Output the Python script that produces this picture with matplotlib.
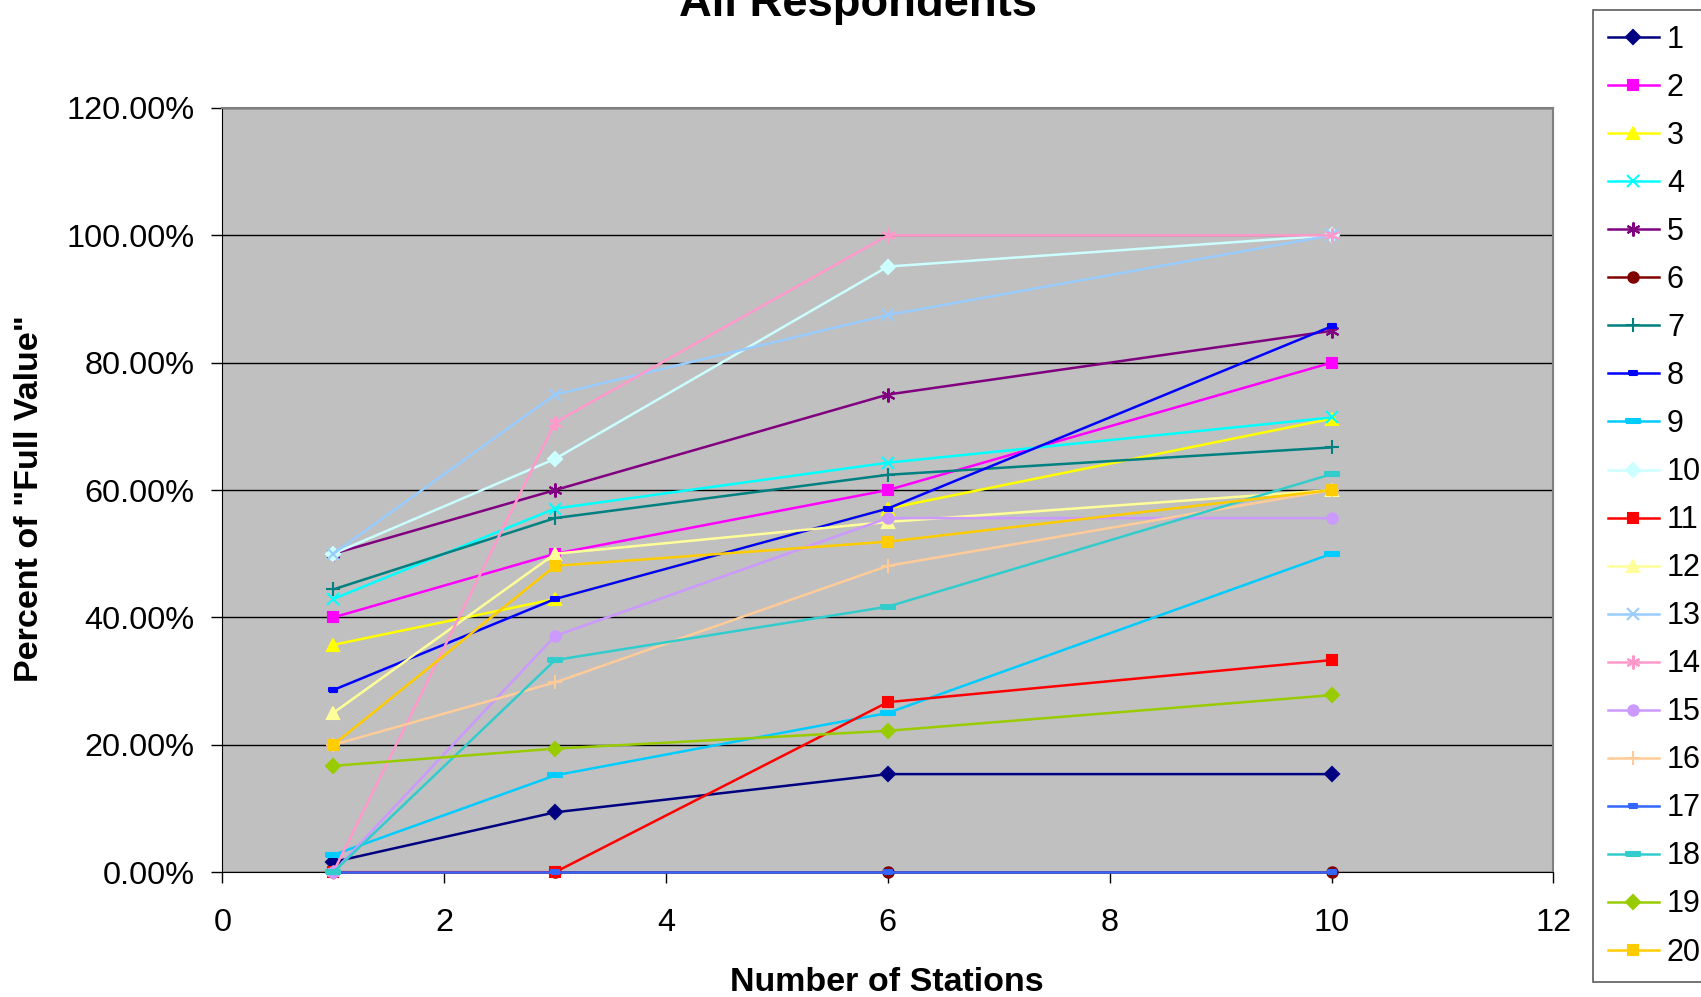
import matplotlib
matplotlib.use("Agg")
import matplotlib.pyplot as plt
from matplotlib.ticker import MultipleLocator, StrMethodFormatter

plt.rcParams['font.family'] = ['Liberation Sans', 'DejaVu Sans']

# number of stations
stations = [1, 3, 6, 10]

# percent of "full value" per respondent
r1 = [1.6, 9.4, 15.4, 15.4]
r2 = [40.0, 50.0, 60.0, 80.0]
r3 = [35.7, 42.9, 57.1, 71.2]
r4 = [42.9, 57.1, 64.3, 71.4]
r5 = [50.0, 60.0, 75.0, 85.0]
r6 = [0.0, 0.0, 0.0, 0.0]
r7 = [44.4, 55.6, 62.4, 66.7]
r8 = [28.6, 42.9, 57.1, 85.7]
r9 = [2.7, 15.2, 25.0, 50.0]
r10 = [50.0, 64.9, 95.1, 100.0]
r11 = [0.0, 0.0, 26.7, 33.3]
r12 = [25.0, 50.0, 55.0, 60.0]
r13 = [50.0, 75.0, 87.5, 100.0]
r14 = [0.0, 70.6, 100.0, 100.0]
r15 = [0.0, 37.1, 55.6, 55.6]
r16 = [20.0, 29.8, 48.1, 60.0]
r17 = [0.0, 0.0, 0.0, 0.0]
r18 = [0.0, 33.3, 41.7, 62.5]
r19 = [16.7, 19.4, 22.2, 27.8]
r20 = [20.0, 48.1, 51.9, 60.0]

respondents = [r1, r2, r3, r4, r5, r6, r7, r8, r9, r10,
               r11, r12, r13, r14, r15, r16, r17, r18, r19, r20]
labels = [str(i) for i in range(1, 21)]

# excel 2003 style palette
colors = ['#000080', '#FF00FF', '#FFFF00', '#00FFFF', '#800080', '#800000',
          '#008080', '#0000FF', '#00CCFF', '#CCFFFF', '#FF0000', '#FFFF99',
          '#99CCFF', '#FF99CC', '#CC99FF', '#FFCC99', '#3366FF', '#33CCCC',
          '#99CC00', '#FFCC00']

short_bar = [(-1, -0.5), (1, -0.5), (1, 0.5), (-1, 0.5), (-1, -0.5)]
long_bar = [(-1, -0.3), (1, -0.3), (1, 0.3), (-1, 0.3), (-1, -0.3)]
star = (6, 2, 0)

markers = ['D', 's', '^', 'x', star, 'o', '+', short_bar, long_bar, 'D',
           's', '^', 'x', star, 'o', '+', short_bar, long_bar, 'D', 's']
sizes = [7, 7.5, 8.5, 9, 10, 7.5, 10, 5.5, 10, 7,
         7.5, 8.5, 9, 10, 7.5, 10, 5.5, 10, 7, 7.5]

fig = plt.figure(figsize=(17.01, 9.97), dpi=100)
ax = fig.add_axes([0.1307, 0.1252, 0.7825, 0.7665])
ax.set_facecolor('#C0C0C0')

for vals, lab, col, mk, ms in zip(respondents, labels, colors, markers, sizes):
    ax.plot(stations, vals, color=col, marker=mk, markersize=ms,
            markerfacecolor=col, markeredgecolor=col, markeredgewidth=1.5,
            linewidth=1.8, label=lab, clip_on=False, zorder=3)

ax.set_xlim(0, 12)
ax.set_ylim(0, 120)
ax.xaxis.set_major_locator(MultipleLocator(2))
ax.yaxis.set_major_locator(MultipleLocator(20))
ax.yaxis.set_major_formatter(StrMethodFormatter('{x:.2f}%'))
ax.tick_params(axis='both', direction='out', length=8, width=1, labelsize=23.4)
ax.tick_params(axis='x', pad=18)
ax.tick_params(axis='y', pad=12)

ax.grid(axis='y', color='black', linewidth=1)
ax.set_axisbelow(True)
for side in ['left', 'bottom']:
    ax.spines[side].set_color('black')
for side in ['top', 'right']:
    ax.spines[side].set_color('#808080')
    ax.spines[side].set_linewidth(1.5)

fig.text(858 / 1701, 1 - 16 / 997, 'All Respondents', ha='center', va='baseline',
         fontsize=32.7, fontweight='bold')
fig.text(887 / 1701, 1 - 991 / 997, 'Number of Stations', ha='center', va='baseline',
         fontsize=24.5, fontweight='bold')
fig.text(30 / 1701, 1 - 499 / 997, 'Percent of "Full Value"', ha='center', va='center',
         rotation=90, fontsize=24.5, fontweight='bold')

leg = fig.legend(loc='upper left', bbox_to_anchor=(1593 / 1701, 1 - 10 / 997),
                 borderaxespad=0, fontsize=22, handlelength=1.67, handletextpad=0.26,
                 borderpad=0.49, labelspacing=0.59, frameon=True, fancybox=False)
leg.get_frame().set_edgecolor('#333333')
leg.get_frame().set_linewidth(1.2)

fig.savefig('out.png', dpi=100)
